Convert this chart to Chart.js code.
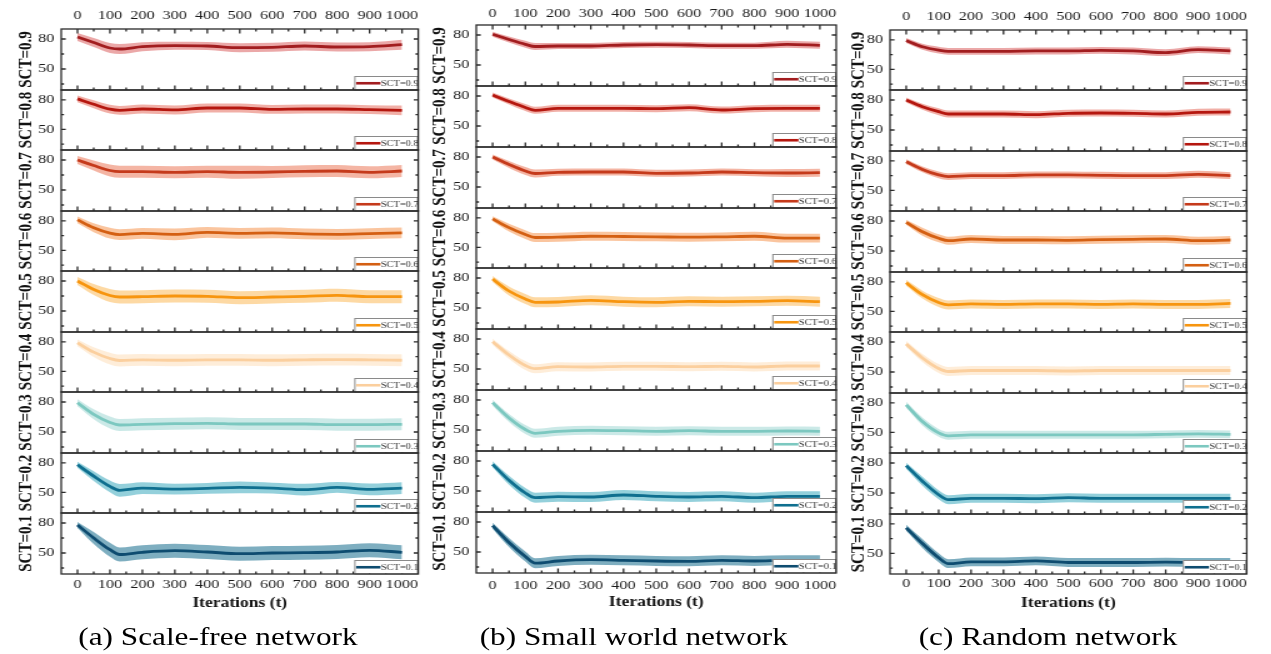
<!DOCTYPE html>
<html><head><meta charset="utf-8">
<script src="https://cdn.jsdelivr.net/npm/chart.js@4.4.1/dist/chart.umd.min.js"></script>
<style>
html,body{margin:0;padding:0;background:#fff;width:1271px;height:654px;overflow:hidden}
#fig{position:absolute;left:0;top:0;width:1017px;height:654px;transform:scaleX(1.25);transform-origin:0 0}
#fig canvas{position:absolute}
.cap{position:absolute;top:621.5px;font-family:'Liberation Serif','Times New Roman',serif;font-size:25px;line-height:30px;white-space:nowrap;color:#000;transform:translateX(-50%)}
</style></head><body><div id="fig"></div>
<script>
// ---------- data ----------
const iterations = [0, 50, 100, 130, 200, 300, 400, 500, 600, 700, 800, 900, 1000];
const xTickLabels = [0, 100, 200, 300, 400, 500, 600, 700, 800, 900, 1000];
const xMinorTicks = [50, 150, 250, 350, 450, 550, 650, 750, 850, 950];
const yTickLabels = [50, 80];
const yMinorTicks = [35, 65];
const sctLabels = ['SCT=0.9','SCT=0.8','SCT=0.7','SCT=0.6','SCT=0.5','SCT=0.4','SCT=0.3','SCT=0.2','SCT=0.1'];
const panelCaptions = ['(a) Scale-free network', '(b) Small world network', '(c) Random network'];
const xAxisTitle = 'Iterations (t)';

// (a) Scale-free network: mean and band half-width
const sfMean09 = [82, 76.5, 71, 70, 72.3, 73.3, 73, 71.3, 71.7, 73, 72, 72.3, 74.3];
const sfBand09 = [4, 4.5, 5, 5, 4.5, 4, 4, 4.5, 4.5, 4.5, 4.5, 4.5, 5];
const sfMean08 = [81, 75.5, 70.5, 69.3, 70.7, 69.7, 71.7, 71.7, 70.3, 70.7, 70.7, 70, 69.3];
const sfBand08 = [3.5, 4, 4.5, 4.5, 4.5, 4.5, 4.5, 4.5, 4.5, 4.5, 4.5, 4.5, 5];
const sfMean07 = [80, 74.5, 69.5, 68.3, 68.3, 67.7, 68.3, 67.7, 68, 68.7, 69, 67.7, 69];
const sfBand07 = [4, 5, 6, 6, 6, 6, 6, 6.5, 6, 6, 6, 6, 6];
const sfMean06 = [81, 73, 67.5, 66, 67.3, 66.3, 68.3, 67.3, 67.7, 66.7, 66.3, 67, 67.7];
const sfBand06 = [3.5, 4.5, 5.5, 5.5, 5.5, 6, 5.5, 5.5, 5.5, 5.5, 5.5, 5.5, 5.5];
const sfMean05 = [80, 71.5, 65.5, 64, 64.3, 65, 64.7, 63.3, 64, 64.7, 65.7, 64.3, 64.3];
const sfBand05 = [4, 5.5, 6.5, 6.5, 6.5, 6.5, 6.5, 6.5, 6.5, 6.5, 6.5, 6.5, 6.5];
const sfMean04 = [79, 69.5, 63, 61, 61.7, 61.3, 61.7, 61.7, 61.3, 61.7, 62, 61.7, 61.3];
const sfBand04 = [3.5, 5, 6, 6, 6, 6, 6, 6, 6, 6, 6, 6, 6];
const sfMean03 = [79.3, 67.7, 59.5, 57, 57.7, 58.3, 58.7, 58, 58, 58, 57.3, 57.3, 57.7];
const sfBand03 = [3.5, 5, 6, 6, 6, 6, 6, 6, 6, 6, 6, 6, 6];
const sfMean02 = [78, 66.5, 56, 52, 54.3, 53.3, 54, 55, 54.3, 52.7, 55, 53, 54.3];
const sfBand02 = [3, 5, 6, 6.5, 6, 5.5, 5.5, 6, 5.5, 6, 5.5, 6, 6];
const sfMean01 = [78, 65, 53.3, 48.5, 50.7, 52.3, 51, 49.3, 50, 50.3, 51, 52.7, 50.7];
const sfBand01 = [3, 6, 7, 7, 7, 7, 7, 7, 7, 7, 7, 7, 7];

// (b) Small world network
const swMean09 = [80.7, 75.5, 70.7, 68.5, 69, 69, 70, 70.3, 70, 69.3, 69.3, 70.7, 69.7];
const swBand09 = [2.5, 3, 3.5, 3.5, 3, 3, 3, 3, 3, 3, 3, 3.5, 3.5];
const swMean08 = [81, 74.5, 68.5, 65.7, 67.7, 67.7, 67.7, 67.3, 68.3, 66, 67.3, 67.7, 67.7];
const swBand08 = [2.5, 3, 3.5, 3.5, 3.5, 3.5, 3.5, 3.5, 3.5, 3.5, 3.5, 3.5, 3.5];
const swMean07 = [80, 72.5, 66, 63.5, 64.7, 65, 65, 63.7, 64, 65, 64.3, 64, 64.3];
const swBand07 = [2.5, 3.5, 4, 4, 3.5, 3.5, 3.5, 3.5, 3.5, 3.5, 3.5, 4, 4];
const swMean06 = [79, 70, 63, 60, 60.3, 61.3, 61, 60.7, 60.3, 60.7, 61.3, 59.3, 59.3];
const swBand06 = [2.5, 4, 4.5, 4.5, 4.5, 4.5, 4.5, 4.5, 4.5, 4.5, 4.5, 4.5, 4.5];
const swMean05 = [79, 67, 59, 55.7, 56, 57.7, 56.3, 55.7, 56.7, 56.3, 56.7, 57.3, 56.3];
const swBand05 = [3, 4.5, 5, 5, 5, 5, 5, 5, 5, 5, 5, 5, 5];
const swMean04 = [77.3, 64, 53.5, 50.3, 52.3, 52, 52.7, 52.7, 52.3, 52.7, 52, 53, 53];
const swBand04 = [3, 4, 4.5, 4.5, 4.5, 4.5, 4.5, 4.5, 4.5, 4.5, 4.5, 4.5, 4.5];
const swMean03 = [77.3, 62, 50.5, 46.7, 48.7, 49.7, 49.3, 48.7, 49.3, 48.7, 48.7, 49, 48.7];
const swBand03 = [3, 4, 4.5, 4.5, 4.5, 4.5, 4.5, 4.5, 4.5, 4.5, 4.5, 4.5, 4.5];
const swMean02 = [76.7, 60.7, 48, 43.3, 44.3, 44, 46, 44.7, 44, 44.7, 43.3, 44.7, 44.7];
const swBand02 = [3, 4.5, 5, 5, 5, 5, 5, 5, 5, 5, 5, 5, 5];
const swMean01 = [76.3, 59.5, 45.5, 38.8, 41, 42.3, 41.7, 41, 40.7, 41.7, 41, 41.7, 41.7];
const swBand01 = [3, 4.5, 5, 5, 5, 5, 5, 5, 5, 5, 5, 5, 5];

// (c) Random network
const rnMean09 = [79.3, 73, 69.5, 68.3, 68.3, 68.3, 68.7, 68.7, 69.3, 68.7, 67, 70, 68.7];
const rnBand09 = [2.5, 3, 3.5, 3.5, 3.5, 3.5, 3.5, 3.5, 3.5, 3.5, 3.5, 3.5, 3.5];
const rnMean08 = [80, 73.3, 68.3, 66, 66, 66, 65.3, 66.7, 67, 66.7, 66, 67.7, 68];
const rnBand08 = [2.5, 3, 3.5, 3.5, 3.5, 3.5, 3.5, 3.5, 3.5, 3.5, 3.5, 3.5, 3.5];
const rnMean07 = [79, 71.3, 65.7, 64, 65, 65, 65.7, 65.7, 65.3, 65, 65, 66.3, 65];
const rnBand07 = [2.5, 3, 3.5, 3.5, 3.5, 3.5, 3.5, 3.5, 3.5, 3.5, 3.5, 3.5, 3.5];
const rnMean06 = [78.7, 69.3, 62.7, 60.3, 62, 61, 61, 60.7, 61.3, 61.7, 62, 60.3, 61];
const rnBand06 = [2.5, 4, 4, 4, 4, 4, 4, 4, 4, 4, 4, 4, 4];
const rnMean05 = [79, 67, 59, 56.5, 57.5, 57, 57.5, 57.5, 57, 57.5, 57, 57, 58];
const rnBand05 = [3, 4, 4.5, 4.5, 4.5, 4.5, 4.5, 4.5, 4.5, 4.5, 4.5, 4.5, 4.5];
const rnMean04 = [78, 64, 53.5, 50.5, 51.5, 51.5, 51.5, 51, 51.5, 51.5, 51.5, 51.5, 51.5];
const rnBand04 = [3, 4, 4.5, 4.5, 4.5, 4.5, 4.5, 4.5, 4.5, 4.5, 4.5, 4.5, 4.5];
const rnMean03 = [78, 61, 49.5, 46.5, 47.5, 47.5, 47.5, 47.5, 47.5, 47.5, 48, 48.5, 48];
const rnBand03 = [3, 4, 4, 4, 4, 4, 4, 4, 4, 4, 4, 4, 4];
const rnMean02 = [77.3, 61.7, 48.3, 43.3, 44.7, 44.7, 44.3, 45.3, 44.7, 44.7, 44.7, 44.7, 44.7];
const rnBand02 = [3, 4.5, 4.5, 4.5, 4.5, 4.5, 4.5, 4.5, 4.5, 4.5, 4.5, 4.5, 4.5];
const rnMean01 = [76, 60, 45.5, 39.5, 41.3, 41.3, 42.3, 40.7, 40.7, 40.7, 41, 40.7, 40.7];
const rnBand01 = [3, 4.5, 4.5, 4.5, 4.5, 4.5, 4.5, 4.5, 4.5, 4.5, 4.5, 4.5, 4.5];

const panelMeans = [
  [sfMean09, sfMean08, sfMean07, sfMean06, sfMean05, sfMean04, sfMean03, sfMean02, sfMean01],
  [swMean09, swMean08, swMean07, swMean06, swMean05, swMean04, swMean03, swMean02, swMean01],
  [rnMean09, rnMean08, rnMean07, rnMean06, rnMean05, rnMean04, rnMean03, rnMean02, rnMean01]
];
const panelBands = [
  [sfBand09, sfBand08, sfBand07, sfBand06, sfBand05, sfBand04, sfBand03, sfBand02, sfBand01],
  [swBand09, swBand08, swBand07, swBand06, swBand05, swBand04, swBand03, swBand02, swBand01],
  [rnBand09, rnBand08, rnBand07, rnBand06, rnBand05, rnBand04, rnBand03, rnBand02, rnBand01]
];

// ---------- styles ----------
const lineColors = ['#a21d1f', '#b5170f', '#c53a1b', '#d45f12', '#f7950f', '#fbcf9e', '#7cc8c0', '#0f6f8f', '#0e4c70'];
const bandColors = ['rgba(222,110,110,0.6)', 'rgba(230,110,95,0.55)', 'rgba(235,120,90,0.55)', 'rgba(245,150,80,0.55)',
                    'rgba(252,185,90,0.55)', 'rgba(252,215,170,0.45)', 'rgba(125,200,195,0.4)', 'rgba(60,170,190,0.55)', 'rgba(40,120,150,0.6)'];
const FAMILY = "'Liberation Serif', 'Times New Roman', serif";
const FRAME = '#2a2a2a';

// layout, in unscaled page units (figure is stretched horizontally by 1.25)
const layouts = [
  {frameL: 48.8, frameR: 334.4, top: 29.3, bottom: 574, topPad: 6, botPad: 3.2, titleY: 603.3, yTitlePad: 12, capX: 174.4},
  {frameL: 381.4, frameR: 669.4, top: 25, bottom: 572.7, topPad: 4, botPad: 4.5, titleY: 602.7, yTitlePad: 11, capX: 507},
  {frameL: 712, frameR: 997.4, top: 30, bottom: 574.3, topPad: 5.5, botPad: 2.1, titleY: 603.3, yTitlePad: 15, capX: 838.4}
];
const Y_W = 49;

const framePlugin = {
  id: 'frameTicks',
  afterDatasetsDraw(chart) {
    const o = chart.options.plugins.frameTicks;
    const {ctx, chartArea: {left, right, top, bottom}, scales: {x, y}} = chart;
    ctx.save();
    ctx.strokeStyle = FRAME;
    ctx.lineWidth = 1.3;
    ctx.beginPath();
    const xt = xTickLabels.map(v => [v, 4.5]).concat(xMinorTicks.map(v => [v, 2.5]));
    xt.forEach(([v, len]) => {
      const px = x.getPixelForValue(v);
      ctx.moveTo(px, bottom); ctx.lineTo(px, bottom - len);
      if (o.topTicks) { ctx.moveTo(px, top); ctx.lineTo(px, top + len); }
    });
    const yt = yTickLabels.map(v => [v, 3.6]).concat(yMinorTicks.map(v => [v, 2.2]));
    yt.forEach(([v, len]) => {
      const py = y.getPixelForValue(v);
      ctx.moveTo(left, py); ctx.lineTo(left + len, py);
      ctx.moveTo(right, py); ctx.lineTo(right - len, py);
    });
    ctx.stroke();
    // legend box
    const bw = 51.2, bh = 13.5;
    const bx = right - bw, by = bottom - bh - 0.5;
    ctx.fillStyle = '#fff';
    ctx.fillRect(bx, by, bw, bh);
    ctx.strokeStyle = '#8a8a8a';
    ctx.lineWidth = 1;
    ctx.strokeRect(bx + 0.5, by + 0.5, bw - 1, bh);
    ctx.strokeStyle = o.color;
    ctx.lineWidth = 2.6;
    ctx.beginPath();
    ctx.moveTo(bx + 1.5, by + bh / 2 + 0.5); ctx.lineTo(bx + 21, by + bh / 2 + 0.5);
    ctx.stroke();
    ctx.fillStyle = '#333';
    ctx.font = "8.3px " + FAMILY;
    ctx.textBaseline = 'middle';
    ctx.textAlign = 'left';
    ctx.fillText(o.label, bx + 21.3, by + bh / 2 + 1);
    // frame
    ctx.strokeStyle = FRAME;
    ctx.lineWidth = 1.3;
    ctx.strokeRect(left, top, right - left, bottom - top);
    ctx.restore();
  }
};

const fig = document.getElementById('fig');
layouts.forEach((L, p) => {
  const rowH = (L.bottom - L.top) / 9;
  for (let r = 0; r < 9; r++) {
    const tInt = Math.round(L.top + r * rowH), bInt = Math.round(L.top + (r + 1) * rowH);
    const isTop = r === 0, isBot = r === 8;
    const xH = isTop ? 30 : (isBot ? 42 : 0);
    const padTop = isTop ? 0 : 3, padBot = isBot ? 0 : 3;
    const cTop = tInt - (isTop ? xH : padTop);
    const cBot = bInt + (isBot ? xH : padBot);
    const cLeft = L.frameL - Y_W;
    const cW = Math.ceil(L.frameR - cLeft + 3);
    const padRight = cW - (L.frameR - cLeft);
    const cH = cBot - cTop;
    const cv = document.createElement('canvas');
    cv.width = cW; cv.height = cH;
    cv.style.left = cLeft + 'px'; cv.style.top = cTop + 'px';
    cv.style.width = cW + 'px'; cv.style.height = cH + 'px';
    fig.appendChild(cv);

    const mean = panelMeans[p][r], band = panelBands[p][r];
    const common = {pointRadius: 0, cubicInterpolationMode: 'monotone'};
    new Chart(cv, {
      type: 'line',
      data: {
        datasets: [
          Object.assign({label: sctLabels[r], data: iterations.map((t, i) => ({x: t, y: mean[i]})),
            borderColor: lineColors[r], borderWidth: 2.8, fill: false}, common),
          Object.assign({label: 'upper', data: iterations.map((t, i) => ({x: t, y: mean[i] + band[i]})),
            borderColor: 'transparent', borderWidth: 0, backgroundColor: bandColors[r], fill: '+1'}, common),
          Object.assign({label: 'lower', data: iterations.map((t, i) => ({x: t, y: mean[i] - band[i]})),
            borderColor: 'transparent', borderWidth: 0, fill: false}, common)
        ]
      },
      options: {
        responsive: false, animation: false, devicePixelRatio: 1,
        layout: {padding: {left: 0, right: padRight, top: padTop, bottom: padBot}},
        plugins: {legend: {display: false}, tooltip: {enabled: false},
                  frameTicks: {topTicks: isTop, label: sctLabels[r], color: lineColors[r]}},
        scales: {
          x: {
            type: 'linear', min: -50, max: 1050,
            position: isTop ? 'top' : 'bottom',
            display: isTop || isBot,
            grid: {display: false, drawTicks: false},
            border: {display: false},
            ticks: {font: {family: FAMILY, size: 13}, color: '#1a1a1a', maxRotation: 0, autoSkip: false,
                    padding: isTop ? L.topPad : L.botPad, callback: v => String(v)},
            afterBuildTicks: s => { s.ticks = xTickLabels.map(v => ({value: v})); },
            afterFit: s => { s.height = xH; s.paddingLeft = 0; s.paddingRight = 0; },
            title: isBot ? {display: true, text: xAxisTitle, color: '#111',
                            font: {family: FAMILY, size: 14, weight: 'bold'},
                            padding: {top: 0, bottom: (bInt + xH) - L.titleY - 8.4}} : {display: false}
          },
          y: {
            type: 'linear', min: 29, max: 90,
            grid: {display: false, drawTicks: false},
            border: {display: false},
            ticks: {font: {family: FAMILY, size: 13}, color: '#1a1a1a', padding: 5.5, callback: v => String(v)},
            afterBuildTicks: s => { s.ticks = yTickLabels.map(v => ({value: v})); },
            afterFit: s => { s.width = Y_W; s.paddingTop = 0; s.paddingBottom = 0; },
            title: {display: true, text: sctLabels[r], color: '#111',
                    font: {family: FAMILY, size: 15, weight: 'bold'},
                    padding: {top: L.yTitlePad, bottom: 0}}
          }
        }
      },
      plugins: [framePlugin]
    });
  }
  const cap = document.createElement('div');
  cap.className = 'cap';
  cap.style.left = L.capX + 'px';
  cap.textContent = panelCaptions[p];
  fig.appendChild(cap);
});
</script></body></html>
